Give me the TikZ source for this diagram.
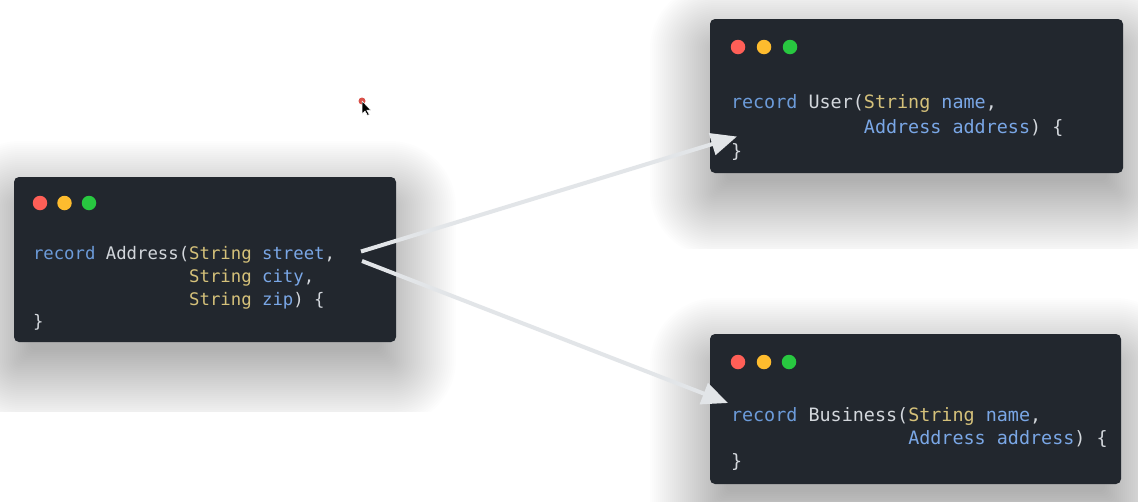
\documentclass[tikz,border=0pt]{standalone}
\usepackage{fontspec}
\usetikzlibrary{arrows.meta,calc}
\newfontfamily\codefont{DejaVu Sans Mono}
\definecolor{boxbg}{HTML}{22272E}
\definecolor{kw}{HTML}{6C9BD9}
\definecolor{par}{HTML}{7AA7E6}
\definecolor{ty}{HTML}{D5C17A}
\definecolor{cls}{HTML}{D3D7DC}
\definecolor{dred}{HTML}{FF5F57}
\definecolor{dyel}{HTML}{FEBC2E}
\definecolor{dgrn}{HTML}{28C840}
\definecolor{arr}{HTML}{E2E5E8}
\pgfdeclarelayer{bg}
\pgfdeclarelayer{shadow}
\pgfsetlayers{bg,shadow,main}
\tikzset{
  codebox/.style={fill=boxbg, rounded corners=5pt, inner sep=0pt, outer sep=0pt, anchor=north west},
  codeline/.style={anchor=base west, inner sep=0pt, outer sep=0pt},
  leftcode/.style={codeline, font=\codefont\fontsize{17.3}{20}\selectfont},
  rightcode/.style={codeline, font=\codefont\fontsize{18.4}{21}\selectfont},
  wdot/.style={circle, inner sep=0pt, minimum size=14.5pt},
  link/.style={arr, line width=4pt, -{Triangle[length=26pt,width=22pt]}},
  shadowlayer/.style={black, opacity=0.008},
}
\newcommand{\softshadow}[1]{%
  \foreach \i in {-16,-14,...,60}{%
    \fill[shadowlayer, rounded corners={max(\i,0)*1pt+6pt}]
      ($(#1.north west)+(-\i,-\i+24)$) rectangle ($(#1.south east)+(\i,\i+24)$);
  }%
}
\begin{document}
\begin{tikzpicture}[x=1pt,y=-1pt]
\begin{pgfonlayer}{bg}
\useasboundingbox[fill=white] (0,0) rectangle (1138,501);
\end{pgfonlayer}

% boxes
\node[codebox, minimum width=382pt, minimum height=165pt] (addr) at (14,177) {};
\node[codebox, minimum width=413pt, minimum height=154pt] (user) at (710,19) {};
\node[codebox, minimum width=411pt, minimum height=150pt] (bus) at (710,334) {};

% shadows, clipped to their panels
\begin{pgfonlayer}{shadow}
\begin{scope}
\clip (0,110) rectangle (463,411);
\softshadow{addr}
\end{scope}
\begin{scope}
\clip (633,0) rectangle (1138,248);
\softshadow{user}
\end{scope}
\begin{scope}
\clip (633,252) rectangle (1138,501);
\softshadow{bus}
\end{scope}
\end{pgfonlayer}

% window dots
\node[wdot, fill=dred] (a1) at (40,203) {};
\node[wdot, fill=dyel] (a2) at (64.5,203) {};
\node[wdot, fill=dgrn] (a3) at (89,203) {};
\node[wdot, fill=dred] (u1) at (738,47) {};
\node[wdot, fill=dyel] (u2) at (764,47) {};
\node[wdot, fill=dgrn] (u3) at (790,47) {};
\node[wdot, fill=dred] (b1) at (738,362) {};
\node[wdot, fill=dyel] (b2) at (764,362) {};
\node[wdot, fill=dgrn] (b3) at (789,362) {};

% Address code
\node[leftcode] (al1) at (33,259) {\textcolor{kw}{record} \textcolor{cls}{Address(}\textcolor{ty}{String} \textcolor{par}{street}\textcolor{cls}{,}};
\node[leftcode] (al2) at (33,282) {\phantom{record Address(}\textcolor{ty}{String} \textcolor{par}{city}\textcolor{cls}{,}};
\node[leftcode] (al3) at (33,305) {\phantom{record Address(}\textcolor{ty}{String} \textcolor{par}{zip}\textcolor{cls}{) \{}};
\node[leftcode] (al4) at (33,327) {\textcolor{cls}{\}}};

% User code
\node[rightcode] (ul1) at (731,108) {\textcolor{kw}{record} \textcolor{cls}{User(}\textcolor{ty}{String} \textcolor{par}{name}\textcolor{cls}{,}};
\node[rightcode] (ul2) at (731,133) {\phantom{record User(}\textcolor{par}{Address address}\textcolor{cls}{) \{}};
\node[rightcode] (ul3) at (731,157) {\textcolor{cls}{\}}};

% Business code
\node[rightcode] (bl1) at (731,421) {\textcolor{kw}{record} \textcolor{cls}{Business(}\textcolor{ty}{String} \textcolor{par}{name}\textcolor{cls}{,}};
\node[rightcode] (bl2) at (731,444) {\phantom{record Business(}\textcolor{par}{Address address}\textcolor{cls}{) \{}};
\node[rightcode] (bl3) at (731,467) {\textcolor{cls}{\}}};

% connectors
\coordinate (s1) at (361,251.5);
\coordinate (s2) at (362,261);
\coordinate (t1) at (737,136.5);
\coordinate (t2) at (728,403);
\draw[link] (s1) -- (t1);
\draw[link] (s2) -- (t2);

% mouse pointer
\node[circle, fill=dred!85!black, inner sep=0pt, minimum size=7pt] (dotc) at (362,101) {};
\draw[fill=black, draw=white, line width=0.5pt] (dotc.center) -- ++(0,13) -- ++(3,-3) -- ++(2.5,4.5) -- ++(1.8,-1) -- ++(-2.5,-4.3) -- ++(4,0) -- cycle;
\end{tikzpicture}
\end{document}
